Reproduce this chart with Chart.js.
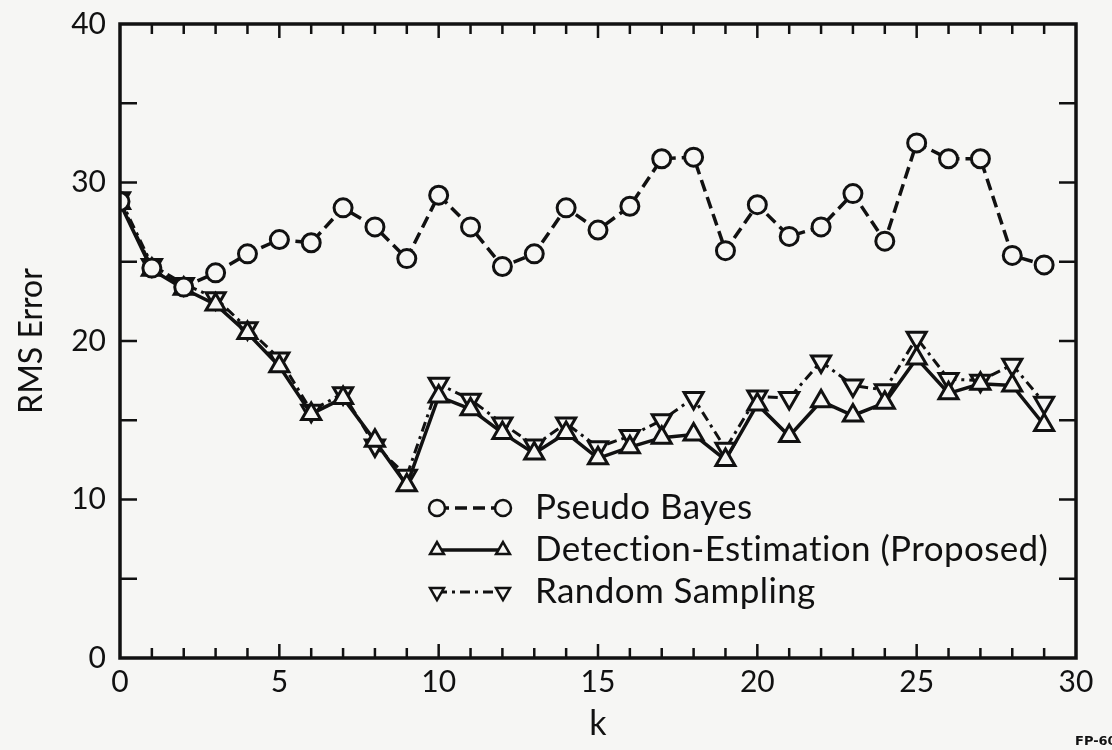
<!DOCTYPE html>
<html>
<head>
<meta charset="utf-8">
<script src="https://cdn.jsdelivr.net/npm/chart.js@4.4.0/dist/chart.umd.min.js"></script>
<style>
  html, body { margin: 0; padding: 0; background: #f6f6f4; }
  #wrap { width: 1112px; height: 750px; position: relative; }
</style>
</head>
<body>
<div id="wrap"><canvas id="rms" width="1112" height="750"></canvas></div>
<script>
// k = 0..29
var kValues = [0,1,2,3,4,5,6,7,8,9,10,11,12,13,14,15,16,17,18,19,20,21,22,23,24,25,26,27,28,29];
var pseudoBayes = [28.8,24.6,23.4,24.3,25.5,26.4,26.2,28.4,27.2,25.2,29.2,27.2,24.7,25.5,28.4,27.0,28.5,31.5,31.6,25.7,28.6,26.6,27.2,29.3,26.3,32.5,31.5,31.5,25.4,24.8];
var detectionEst = [28.7,24.5,23.3,22.3,20.5,18.4,15.4,16.4,13.7,10.9,16.5,15.7,14.2,12.9,14.2,12.6,13.3,13.9,14.1,12.5,16.0,14.0,16.2,15.3,16.1,18.9,16.7,17.3,17.2,14.7];
var randomSampling = [29.0,24.8,23.6,22.7,20.8,18.9,15.6,16.7,13.4,11.5,17.3,16.3,14.8,13.4,14.8,13.3,14.0,15.0,16.4,13.2,16.5,16.4,18.7,17.2,16.9,20.2,17.6,17.5,18.5,16.1];
var seriesNames = ['Pseudo Bayes', 'Detection-Estimation (Proposed)', 'Random Sampling'];
var xTickLabels = [0,5,10,15,20,25,30];
var yTickLabels = [0,10,20,30,40];

var INK = '#111';
var PAPER = '#f6f6f4';
var FONT = 'Lato, "Open Sans", sans-serif';

function pts(arr) {
  return arr.map(function(v, i) { return {x: kValues[i], y: v}; });
}

// inward tick marks on all four sides of the frame
var frameTicks = {
  id: 'frameTicks',
  afterDraw: function(chart) {
    var ctx = chart.ctx, a = chart.chartArea;
    var xs = chart.scales.x, ys = chart.scales.y;
    ctx.save();
    ctx.strokeStyle = INK;
    ctx.lineWidth = 2.5;
    ctx.beginPath();
    for (var k = 1; k < 30; k++) {
      var px = xs.getPixelForValue(k);
      var len = (k % 5 === 0) ? 14 : 10;
      ctx.moveTo(px, a.bottom); ctx.lineTo(px, a.bottom - len);
      ctx.moveTo(px, a.top); ctx.lineTo(px, a.top + len);
    }
    for (var v = 5; v < 40; v += 5) {
      var py = ys.getPixelForValue(v);
      ctx.moveTo(a.left, py); ctx.lineTo(a.left + 17, py);
      ctx.moveTo(a.right, py); ctx.lineTo(a.right - 17, py);
    }
    ctx.stroke();
    ctx.lineWidth = 3.5;
    ctx.strokeRect(a.left, a.top, a.right - a.left, a.bottom - a.top);

    // plate number in the corner
    ctx.fillStyle = INK;
    ctx.font = 'bold 13px "DejaVu Sans", sans-serif';
    ctx.textAlign = 'left';
    ctx.textBaseline = 'middle';
    ctx.fillText('FP-609', 1075, 742);
    ctx.restore();
  }
};

// legend drawn as marker - line - marker, like the original
var inlineLegend = {
  id: 'inlineLegend',
  afterDatasetsDraw: function(chart) {
    var ctx = chart.ctx;
    var rows = [508, 550, 592];
    ctx.save();
    chart.data.datasets.forEach(function(ds, i) {
      var y = rows[i], x1 = 437, x2 = 503;
      ctx.strokeStyle = INK;
      ctx.lineWidth = ds.borderWidth;
      ctx.setLineDash(ds.borderDash || []);
      ctx.beginPath();
      ctx.moveTo(x1, y); ctx.lineTo(x2, y);
      ctx.stroke();
      ctx.setLineDash([]);
      var opts = {pointStyle: ds.pointStyle, rotation: ds.pointRotation || 0, radius: 8, borderWidth: 2.5};
      ctx.fillStyle = PAPER;
      ctx.lineWidth = 2.5;
      Chart.helpers.drawPoint(ctx, opts, x1, y);
      Chart.helpers.drawPoint(ctx, opts, x2, y);
      ctx.fillStyle = INK;
      ctx.font = '35px ' + FONT;
      ctx.letterSpacing = '0.4px';
      ctx.textAlign = 'left';
      ctx.textBaseline = 'middle';
      ctx.fillText(seriesNames[i], 535, y);
    });
    ctx.restore();
  }
};

new Chart(document.getElementById('rms'), {
  type: 'line',
  data: {
    datasets: [{
      label: seriesNames[0],
      data: pts(pseudoBayes),
      borderColor: INK,
      borderWidth: 3.5,
      borderDash: [12, 6],
      pointStyle: 'circle',
      pointRadius: 9,
      pointBorderWidth: 3,
      pointBackgroundColor: PAPER,
      pointBorderColor: INK
    }, {
      label: seriesNames[1],
      data: pts(detectionEst),
      borderColor: INK,
      borderWidth: 3.5,
      pointStyle: 'triangle',
      pointRadius: 11,
      pointBorderWidth: 3,
      pointBackgroundColor: PAPER,
      pointBorderColor: INK
    }, {
      label: seriesNames[2],
      data: pts(randomSampling),
      borderColor: INK,
      borderWidth: 3,
      borderDash: [10, 5, 3, 5],
      pointStyle: 'triangle',
      pointRotation: 180,
      pointRadius: 11,
      pointBorderWidth: 3,
      pointBackgroundColor: PAPER,
      pointBorderColor: INK
    }]
  },
  options: {
    responsive: false,
    animation: false,
    layout: {padding: {top: 24, right: 36, left: 0, bottom: 0}},
    plugins: {
      legend: {display: false},
      tooltip: {enabled: false}
    },
    scales: {
      x: {
        type: 'linear',
        min: 0, max: 30,
        afterFit: function(s) { s.height = 92; },
        afterBuildTicks: function(s) { s.ticks = xTickLabels.map(function(v) { return {value: v}; }); },
        grid: {display: false, drawTicks: false},
        border: {display: false},
        ticks: {color: INK, font: {family: FONT, size: 30}, padding: 6, maxRotation: 0},
        title: {display: true, text: 'k', color: INK, font: {family: FONT, size: 34}, padding: {top: 0, bottom: 6}}
      },
      y: {
        min: 0, max: 40,
        afterFit: function(s) { s.width = 120; s.paddingTop = 0; },
        afterBuildTicks: function(s) { s.ticks = yTickLabels.map(function(v) { return {value: v}; }); },
        grid: {display: false, drawTicks: false},
        border: {display: false},
        ticks: {color: INK, font: {family: FONT, size: 30}, padding: 14},
        title: {display: true, text: 'RMS Error', color: INK, font: {family: FONT, size: 32}, padding: {top: 12, bottom: 0}}
      }
    }
  },
  plugins: [frameTicks, inlineLegend]
});
</script>
</body>
</html>
